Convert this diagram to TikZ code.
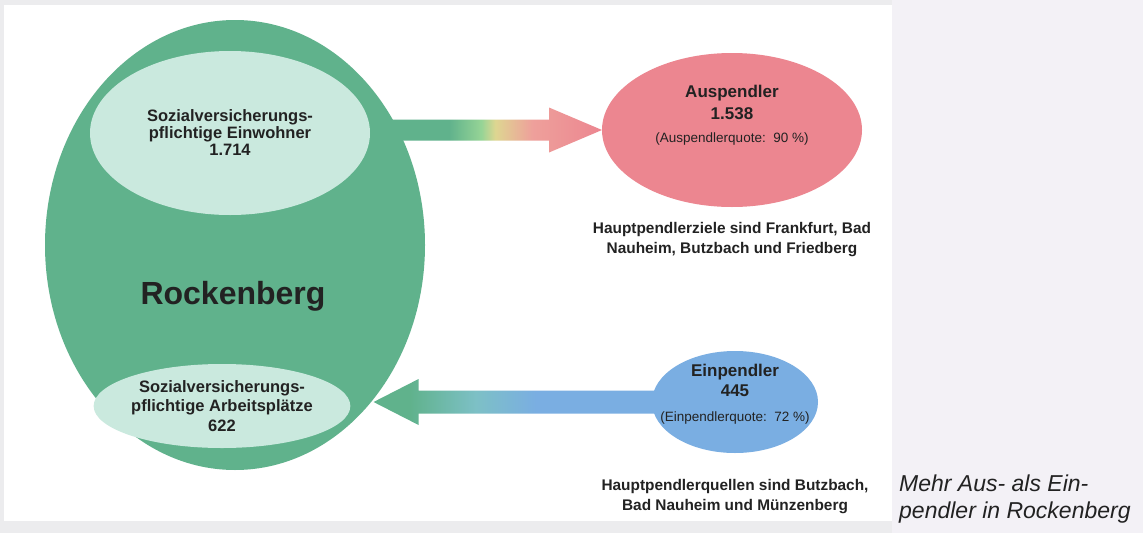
\documentclass[tikz,border=0pt]{standalone}
\usepackage{fontspec}
\setmainfont{Liberation Sans}
\usepackage{tikz}
\usetikzlibrary{positioning,calc,shapes.geometric}
\definecolor{rockgreen}{RGB}{96,178,140}
\definecolor{mint}{RGB}{202,233,222}
\definecolor{auspink}{RGB}{236,134,144}
\definecolor{einblue}{RGB}{122,174,226}
\definecolor{flowgreen}{RGB}{150,212,150}
\definecolor{flowyellow}{RGB}{222,214,145}
\definecolor{flowpink}{RGB}{238,160,155}
\definecolor{flowteal}{RGB}{125,192,198}
\definecolor{txt}{RGB}{34,34,34}
\definecolor{pagegrey}{RGB}{236,236,238}
\definecolor{panel}{RGB}{243,241,246}
\pgfdeclarehorizontalshading{outflow}{100bp}{color(0bp)=(rockgreen); color(42bp)=(rockgreen); color(49bp)=(flowgreen); color(52bp)=(flowyellow); color(60bp)=(flowpink); color(75bp)=(auspink); color(100bp)=(auspink)}
\pgfdeclarehorizontalshading{inflow}{100bp}{color(0bp)=(rockgreen); color(31bp)=(rockgreen); color(42bp)=(flowteal); color(52bp)=(einblue); color(100bp)=(einblue)}
\tikzstyle{ell} = [ellipse, inner sep=0pt, outer sep=0pt]
\tikzstyle{note} = [font=\fontsize{15.4}{20}\selectfont\bfseries, text=txt, align=center, inner sep=0pt]

\begin{document}
\begin{tikzpicture}[x=1pt,y=-1pt,
            hd/.style = {font=\fontsize{16.5}{17}\selectfont\bfseries, text=txt, align=center},
            capt/.style = {font=\fontsize{23}{27}\selectfont\itshape, text=txt, align=left, inner sep=0pt}]
            \fill[pagegrey] (0,0) rectangle (1143,533);
            \fill[white] (4,5) rectangle (892,521);
            \fill[panel] (892,0) rectangle (1143,533);
            \useasboundingbox (0,0) rectangle (1143,533);
            \node[ell, fill=rockgreen, minimum width=380pt, minimum height=450pt] (rock) at (235,245) {};
            \node[ell, fill=auspink, minimum width=260pt, minimum height=154pt] (aus) at (732,130) {};
            \coordinate (intip) at (rock.-48.4 |- 0,402);
            \coordinate (einc) at (735,402);
            \shade[shading=outflow] ($(rock.east |- aus.west)+(-55,-10.5)$) -- ($(aus.west)+(-53,-10.5)$) -- ($(aus.west)+(-53,-22.5)$) -- (aus.west) -- ($(aus.west)+(-53,22.5)$) -- ($(aus.west)+(-53,10.5)$) -- ($(rock.east |- aus.west)+(-55,10.5)$) -- cycle;
            \shade[shading=inflow] (intip) -- ($(intip)+(45,-23)$) -- ($(intip)+(45,-11.5)$) -- ($(einc)+(-60,-11.5)$) -- ($(einc)+(-60,11.5)$) -- ($(intip)+(45,11.5)$) -- ($(intip)+(45,23)$) -- cycle;
            \node[ell, fill=einblue, minimum width=166pt, minimum height=102pt] (ein) at (einc) {};
            \node[ell, hd, fill=mint, minimum width=280pt, minimum height=164pt] (ew) at (230,133) {Sozialversicherungs-\\pflichtige Einwohner\\1.714};
            \node[ell, hd, fill=mint, minimum width=196pt, minimum height=84pt, font=\fontsize{16.5}{19.5}\selectfont\bfseries] (ap) at (222,406) {Sozialversicherungs-\\pflichtige Arbeitsplätze\\622};
            \node[hd, font=\fontsize{32}{36}\selectfont\bfseries] (rname) at (233,296) {Rockenberg};
            \node[hd, font=\fontsize{17}{22}\selectfont\bfseries] (aust) at ([yshift=14.5pt]aus.center) {Auspendler\\1.538\\[1pt]{\fontsize{13.5}{16}\selectfont\mdseries (Auspendlerquote:\ \ 90~\%)}};
            \node[hd, font=\fontsize{17}{20}\selectfont\bfseries] (eint) at ([yshift=7.5pt]ein.center) {Einpendler\\445\\[5pt]{\fontsize{13.5}{16}\selectfont\mdseries (Einpendlerquote:\ \ 72~\%)}};
            \node[note] (ziele) [below = 15pt of aus] {Hauptpendlerziele sind Frankfurt, Bad\\Nauheim, Butzbach und Friedberg};
            \node[note] (quellen) [below = 26pt of ein] {Hauptpendlerquellen sind Butzbach,\\Bad Nauheim und Münzenberg};
            \node[capt, anchor=west] (cap) at (899,499) {Mehr Aus- als Ein-\\pendler in Rockenberg};
            \end{tikzpicture}
\end{document}
